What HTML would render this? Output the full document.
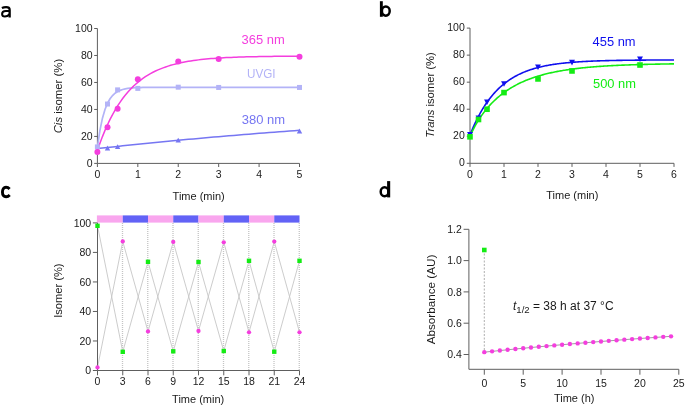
<!DOCTYPE html>
<html><head><meta charset="utf-8"><style>
html,body{margin:0;padding:0;background:#fff;}
svg{display:block;font-family:"Liberation Sans", sans-serif;will-change:transform;}
</style></head><body>
<svg width="685" height="406" viewBox="0 0 685 406">
<rect width="685" height="406" fill="#fff"/>
<path d="M97.4,28.5 V163.4 H299.5" fill="none" stroke="#5e5e5e" stroke-width="1"/>
<path d="M94.2,163.4 H97.4" stroke="#5e5e5e" stroke-width="1"/>
<text x="92.6" y="167" font-size="10.5" text-anchor="end" fill="#1a1a1a" >0</text>
<path d="M94.2,136.42 H97.4" stroke="#5e5e5e" stroke-width="1"/>
<text x="92.6" y="140.02" font-size="10.5" text-anchor="end" fill="#1a1a1a" >20</text>
<path d="M94.2,109.44 H97.4" stroke="#5e5e5e" stroke-width="1"/>
<text x="92.6" y="113.04" font-size="10.5" text-anchor="end" fill="#1a1a1a" >40</text>
<path d="M94.2,82.46 H97.4" stroke="#5e5e5e" stroke-width="1"/>
<text x="92.6" y="86.06" font-size="10.5" text-anchor="end" fill="#1a1a1a" >60</text>
<path d="M94.2,55.48 H97.4" stroke="#5e5e5e" stroke-width="1"/>
<text x="92.6" y="59.08" font-size="10.5" text-anchor="end" fill="#1a1a1a" >80</text>
<path d="M94.2,28.5 H97.4" stroke="#5e5e5e" stroke-width="1"/>
<text x="92.6" y="32.1" font-size="10.5" text-anchor="end" fill="#1a1a1a" >100</text>
<path d="M97.4,163.4 V167" stroke="#5e5e5e" stroke-width="1"/>
<text x="97.4" y="177.8" font-size="10.5" text-anchor="middle" fill="#1a1a1a" >0</text>
<path d="M137.82,163.4 V167" stroke="#5e5e5e" stroke-width="1"/>
<text x="137.82" y="177.8" font-size="10.5" text-anchor="middle" fill="#1a1a1a" >1</text>
<path d="M178.24,163.4 V167" stroke="#5e5e5e" stroke-width="1"/>
<text x="178.24" y="177.8" font-size="10.5" text-anchor="middle" fill="#1a1a1a" >2</text>
<path d="M218.66,163.4 V167" stroke="#5e5e5e" stroke-width="1"/>
<text x="218.66" y="177.8" font-size="10.5" text-anchor="middle" fill="#1a1a1a" >3</text>
<path d="M259.08,163.4 V167" stroke="#5e5e5e" stroke-width="1"/>
<text x="259.08" y="177.8" font-size="10.5" text-anchor="middle" fill="#1a1a1a" >4</text>
<path d="M299.5,163.4 V167" stroke="#5e5e5e" stroke-width="1"/>
<text x="299.5" y="177.8" font-size="10.5" text-anchor="middle" fill="#1a1a1a" >5</text>
<text x="198.7" y="199.8" font-size="11" text-anchor="middle" fill="#1a1a1a" >Time (min)</text>
<text transform="translate(62.3,96.05) rotate(-90)" font-size="11" text-anchor="middle" fill="#1a1a1a" textLength="74.6" lengthAdjust="spacingAndGlyphs"><tspan font-style="italic">Cis</tspan> isomer (%)</text>
<path d="M97.4,147.21 L99.93,130.32 L102.45,118.2 L104.98,109.49 L107.51,103.24 L110.03,98.75 L112.56,95.52 L115.08,93.21 L117.61,91.55 L120.14,90.35 L122.66,89.5 L125.19,88.88 L127.72,88.44 L130.24,88.12 L132.77,87.9 L135.29,87.73 L137.82,87.62 L140.35,87.53 L142.87,87.47 L145.4,87.43 L147.93,87.4 L150.45,87.37 L152.98,87.36 L155.5,87.35 L158.03,87.34 L160.56,87.33 L163.08,87.33 L165.61,87.32 L168.13,87.32 L170.66,87.32 L173.19,87.32 L175.71,87.32 L178.24,87.32 L180.77,87.32 L183.29,87.32 L185.82,87.32 L188.35,87.32 L190.87,87.32 L193.4,87.32 L195.92,87.32 L198.45,87.32 L200.98,87.32 L203.5,87.32 L206.03,87.32 L208.56,87.32 L211.08,87.32 L213.61,87.32 L216.13,87.32 L218.66,87.32 L221.19,87.32 L223.71,87.32 L226.24,87.32 L228.77,87.32 L231.29,87.32 L233.82,87.32 L236.34,87.32 L238.87,87.32 L241.4,87.32 L243.92,87.32 L246.45,87.32 L248.98,87.32 L251.5,87.32 L254.03,87.32 L256.55,87.32 L259.08,87.32 L261.61,87.32 L264.13,87.32 L266.66,87.32 L269.19,87.32 L271.71,87.32 L274.24,87.32 L276.76,87.32 L279.29,87.32 L281.82,87.32 L284.34,87.32 L286.87,87.32 L289.39,87.32 L291.92,87.32 L294.45,87.32 L296.97,87.32 L299.5,87.32" fill="none" stroke="#b3b3f7" stroke-width="1.7" />
<path d="M97.4,148.56 L102.45,148.01 L107.51,147.46 L112.56,146.91 L117.61,146.38 L122.66,145.84 L127.72,145.31 L132.77,144.79 L137.82,144.27 L142.87,143.76 L147.93,143.25 L152.98,142.75 L158.03,142.25 L163.08,141.75 L168.13,141.27 L173.19,140.78 L178.24,140.31 L183.29,139.83 L188.35,139.36 L193.4,138.9 L198.45,138.44 L203.5,137.99 L208.56,137.54 L213.61,137.1 L218.66,136.66 L223.71,136.23 L228.77,135.8 L233.82,135.38 L238.87,134.96 L243.92,134.55 L248.98,134.14 L254.03,133.74 L259.08,133.34 L264.13,132.95 L269.19,132.57 L274.24,132.18 L279.29,131.81 L284.34,131.43 L289.39,131.07 L294.45,130.71 L299.5,130.35" fill="none" stroke="#7676f2" stroke-width="1.5" />
<path d="M97.4,150.58 L99.93,143.31 L102.45,136.6 L104.98,130.41 L107.51,124.69 L110.03,119.41 L112.56,114.53 L115.08,110.04 L117.61,105.88 L120.14,102.05 L122.66,98.51 L125.19,95.24 L127.72,92.23 L130.24,89.44 L132.77,86.87 L135.29,84.5 L137.82,82.31 L140.35,80.29 L142.87,78.42 L145.4,76.7 L147.93,75.11 L150.45,73.64 L152.98,72.29 L155.5,71.04 L158.03,69.88 L160.56,68.82 L163.08,67.83 L165.61,66.93 L168.13,66.09 L170.66,65.31 L173.19,64.6 L175.71,63.94 L178.24,63.33 L180.77,62.77 L183.29,62.25 L185.82,61.77 L188.35,61.33 L190.87,60.92 L193.4,60.54 L195.92,60.2 L198.45,59.87 L200.98,59.58 L203.5,59.3 L206.03,59.05 L208.56,58.82 L211.08,58.6 L213.61,58.4 L216.13,58.22 L218.66,58.05 L221.19,57.9 L223.71,57.75 L226.24,57.62 L228.77,57.5 L231.29,57.38 L233.82,57.28 L236.34,57.18 L238.87,57.09 L241.4,57.01 L243.92,56.93 L246.45,56.86 L248.98,56.8 L251.5,56.74 L254.03,56.68 L256.55,56.63 L259.08,56.58 L261.61,56.54 L264.13,56.5 L266.66,56.46 L269.19,56.43 L271.71,56.4 L274.24,56.37 L276.76,56.34 L279.29,56.32 L281.82,56.29 L284.34,56.27 L286.87,56.25 L289.39,56.24 L291.92,56.22 L294.45,56.2 L296.97,56.19 L299.5,56.18" fill="none" stroke="#f43ede" stroke-width="1.5" />
<rect x="94.9" y="144.44" width="5.0" height="5.0" fill="#b3b3f7"/>
<rect x="105.01" y="101.54" width="5.0" height="5.0" fill="#b3b3f7"/>
<rect x="115.11" y="87.38" width="5.0" height="5.0" fill="#b3b3f7"/>
<rect x="135.32" y="85.9" width="5.0" height="5.0" fill="#b3b3f7"/>
<rect x="175.74" y="84.68" width="5.0" height="5.0" fill="#b3b3f7"/>
<rect x="216.16" y="84.95" width="5.0" height="5.0" fill="#b3b3f7"/>
<rect x="297" y="84.95" width="5.0" height="5.0" fill="#b3b3f7"/>
<path d="M104.81,150.42 L110.21,150.42 L107.51,145.62 Z" fill="#7676f2"/>
<path d="M114.91,149.07 L120.31,149.07 L117.61,144.27 Z" fill="#7676f2"/>
<path d="M175.54,142.6 L180.94,142.6 L178.24,137.8 Z" fill="#7676f2"/>
<path d="M296.8,133.42 L302.2,133.42 L299.5,128.62 Z" fill="#7676f2"/>
<circle cx="97.4" cy="151.93" r="3.0" fill="#f43ede"/>
<circle cx="107.51" cy="127.25" r="3.0" fill="#f43ede"/>
<circle cx="117.61" cy="108.77" r="3.0" fill="#f43ede"/>
<circle cx="137.82" cy="79.36" r="3.0" fill="#f43ede"/>
<circle cx="178.24" cy="61.55" r="3.0" fill="#f43ede"/>
<circle cx="218.66" cy="59.12" r="3.0" fill="#f43ede"/>
<circle cx="299.5" cy="56.83" r="3.0" fill="#f43ede"/>
<text x="241.5" y="44.2" font-size="12" text-anchor="start" fill="#f43ede" textLength="43.2" lengthAdjust="spacingAndGlyphs">365 nm</text>
<text x="247" y="77.9" font-size="12" text-anchor="start" fill="#b3b3f7" textLength="28.6" lengthAdjust="spacingAndGlyphs">UVGI</text>
<text x="241.7" y="123.6" font-size="12" text-anchor="start" fill="#7676f2" textLength="43.4" lengthAdjust="spacingAndGlyphs">380 nm</text>
<path d="M470,28.1 V163.3 H674" fill="none" stroke="#5e5e5e" stroke-width="1"/>
<path d="M466.8,163.3 H470" stroke="#5e5e5e" stroke-width="1"/>
<text x="464.8" y="166.4" font-size="10.5" text-anchor="end" fill="#1a1a1a" >0</text>
<path d="M466.8,136.26 H470" stroke="#5e5e5e" stroke-width="1"/>
<text x="464.8" y="139.36" font-size="10.5" text-anchor="end" fill="#1a1a1a" >20</text>
<path d="M466.8,109.22 H470" stroke="#5e5e5e" stroke-width="1"/>
<text x="464.8" y="112.32" font-size="10.5" text-anchor="end" fill="#1a1a1a" >40</text>
<path d="M466.8,82.18 H470" stroke="#5e5e5e" stroke-width="1"/>
<text x="464.8" y="85.28" font-size="10.5" text-anchor="end" fill="#1a1a1a" >60</text>
<path d="M466.8,55.14 H470" stroke="#5e5e5e" stroke-width="1"/>
<text x="464.8" y="58.24" font-size="10.5" text-anchor="end" fill="#1a1a1a" >80</text>
<path d="M466.8,28.1 H470" stroke="#5e5e5e" stroke-width="1"/>
<text x="464.8" y="31.2" font-size="10.5" text-anchor="end" fill="#1a1a1a" >100</text>
<path d="M470,163.3 V166.9" stroke="#5e5e5e" stroke-width="1"/>
<text x="470" y="177.8" font-size="10.5" text-anchor="middle" fill="#1a1a1a" >0</text>
<path d="M504,163.3 V166.9" stroke="#5e5e5e" stroke-width="1"/>
<text x="504" y="177.8" font-size="10.5" text-anchor="middle" fill="#1a1a1a" >1</text>
<path d="M538,163.3 V166.9" stroke="#5e5e5e" stroke-width="1"/>
<text x="538" y="177.8" font-size="10.5" text-anchor="middle" fill="#1a1a1a" >2</text>
<path d="M572,163.3 V166.9" stroke="#5e5e5e" stroke-width="1"/>
<text x="572" y="177.8" font-size="10.5" text-anchor="middle" fill="#1a1a1a" >3</text>
<path d="M606,163.3 V166.9" stroke="#5e5e5e" stroke-width="1"/>
<text x="606" y="177.8" font-size="10.5" text-anchor="middle" fill="#1a1a1a" >4</text>
<path d="M640,163.3 V166.9" stroke="#5e5e5e" stroke-width="1"/>
<text x="640" y="177.8" font-size="10.5" text-anchor="middle" fill="#1a1a1a" >5</text>
<path d="M674,163.3 V166.9" stroke="#5e5e5e" stroke-width="1"/>
<text x="674" y="177.8" font-size="10.5" text-anchor="middle" fill="#1a1a1a" >6</text>
<text x="572.3" y="198.5" font-size="11" text-anchor="middle" fill="#1a1a1a" >Time (min)</text>
<text transform="translate(434.0,94.95) rotate(-90)" font-size="11" text-anchor="middle" fill="#1a1a1a" textLength="85.4" lengthAdjust="spacingAndGlyphs"><tspan font-style="italic">Trans</tspan> isomer (%)</text>
<path d="M470,134.91 L471.02,132.39 L472.04,129.95 L473.06,127.59 L474.08,125.31 L475.1,123.11 L476.12,120.99 L477.14,118.93 L478.16,116.95 L479.18,115.03 L480.2,113.17 L481.22,111.38 L482.24,109.65 L483.26,107.98 L484.28,106.36 L485.3,104.8 L486.32,103.29 L487.34,101.83 L488.36,100.42 L489.38,99.05 L490.4,97.73 L491.42,96.46 L492.44,95.23 L493.46,94.04 L494.48,92.89 L495.5,91.78 L496.52,90.71 L497.54,89.67 L498.56,88.67 L499.58,87.7 L500.6,86.77 L501.62,85.86 L502.64,84.99 L503.66,84.15 L504.68,83.33 L505.7,82.54 L506.72,81.78 L507.74,81.04 L508.76,80.33 L509.78,79.64 L510.8,78.98 L511.82,78.33 L512.84,77.71 L513.86,77.11 L514.88,76.53 L515.9,75.97 L516.92,75.43 L517.94,74.91 L518.96,74.4 L519.98,73.92 L521,73.44 L522.02,72.99 L523.04,72.55 L524.06,72.12 L525.08,71.71 L526.1,71.31 L527.12,70.93 L528.14,70.55 L529.16,70.19 L530.18,69.85 L531.2,69.51 L532.22,69.19 L533.24,68.88 L534.26,68.57 L535.28,68.28 L536.3,68 L537.32,67.72 L538.34,67.46 L539.36,67.2 L540.38,66.96 L541.4,66.72 L542.42,66.49 L543.44,66.27 L544.46,66.05 L545.48,65.84 L546.5,65.64 L547.52,65.45 L548.54,65.26 L549.56,65.08 L550.58,64.91 L551.6,64.74 L552.62,64.57 L553.64,64.41 L554.66,64.26 L555.68,64.11 L556.7,63.97 L557.72,63.83 L558.74,63.7 L559.76,63.57 L560.78,63.45 L561.8,63.33 L562.82,63.21 L563.84,63.1 L564.86,62.99 L565.88,62.89 L566.9,62.78 L567.92,62.69 L568.94,62.59 L569.96,62.5 L570.98,62.41 L572,62.33 L573.02,62.24 L574.04,62.16 L575.06,62.09 L576.08,62.01 L577.1,61.94 L578.12,61.87 L579.14,61.8 L580.16,61.74 L581.18,61.68 L582.2,61.62 L583.22,61.56 L584.24,61.5 L585.26,61.45 L586.28,61.39 L587.3,61.34 L588.32,61.29 L589.34,61.24 L590.36,61.2 L591.38,61.15 L592.4,61.11 L593.42,61.07 L594.44,61.03 L595.46,60.99 L596.48,60.95 L597.5,60.92 L598.52,60.88 L599.54,60.85 L600.56,60.81 L601.58,60.78 L602.6,60.75 L603.62,60.72 L604.64,60.69 L605.66,60.67 L606.68,60.64 L607.7,60.61 L608.72,60.59 L609.74,60.56 L610.76,60.54 L611.78,60.52 L612.8,60.5 L613.82,60.48 L614.84,60.46 L615.86,60.44 L616.88,60.42 L617.9,60.4 L618.92,60.38 L619.94,60.36 L620.96,60.35 L621.98,60.33 L623,60.32 L624.02,60.3 L625.04,60.29 L626.06,60.27 L627.08,60.26 L628.1,60.25 L629.12,60.23 L630.14,60.22 L631.16,60.21 L632.18,60.2 L633.2,60.19 L634.22,60.18 L635.24,60.17 L636.26,60.16 L637.28,60.15 L638.3,60.14 L639.32,60.13 L640.34,60.12 L641.36,60.11 L642.38,60.1 L643.4,60.1 L644.42,60.09 L645.44,60.08 L646.46,60.07 L647.48,60.07 L648.5,60.06 L649.52,60.05 L650.54,60.05 L651.56,60.04 L652.58,60.04 L653.6,60.03 L654.62,60.03 L655.64,60.02 L656.66,60.02 L657.68,60.01 L658.7,60.01 L659.72,60 L660.74,60 L661.76,59.99 L662.78,59.99 L663.8,59.99 L664.82,59.98 L665.84,59.98 L666.86,59.97 L667.88,59.97 L668.9,59.97 L669.92,59.96 L670.94,59.96 L671.96,59.96 L672.98,59.96 L674,59.95" fill="none" stroke="#1010ee" stroke-width="1.6" />
<path d="M470,136.8 L471.02,134.16 L472.04,131.89 L473.06,129.78 L474.08,127.78 L475.1,125.89 L476.12,124.08 L477.14,122.34 L478.16,120.68 L479.18,119.07 L480.2,117.53 L481.22,116.04 L482.24,114.6 L483.26,113.2 L484.28,111.86 L485.3,110.56 L486.32,109.3 L487.34,108.08 L488.36,106.9 L489.38,105.75 L490.4,104.64 L491.42,103.56 L492.44,102.51 L493.46,101.5 L494.48,100.51 L495.5,99.55 L496.52,98.62 L497.54,97.72 L498.56,96.84 L499.58,95.99 L500.6,95.16 L501.62,94.36 L502.64,93.57 L503.66,92.81 L504.68,92.07 L505.7,91.35 L506.72,90.65 L507.74,89.97 L508.76,89.3 L509.78,88.66 L510.8,88.03 L511.82,87.42 L512.84,86.82 L513.86,86.24 L514.88,85.68 L515.9,85.13 L516.92,84.59 L517.94,84.07 L518.96,83.56 L519.98,83.07 L521,82.59 L522.02,82.12 L523.04,81.66 L524.06,81.22 L525.08,80.78 L526.1,80.36 L527.12,79.95 L528.14,79.55 L529.16,79.16 L530.18,78.77 L531.2,78.4 L532.22,78.04 L533.24,77.69 L534.26,77.34 L535.28,77.01 L536.3,76.68 L537.32,76.36 L538.34,76.05 L539.36,75.75 L540.38,75.45 L541.4,75.16 L542.42,74.88 L543.44,74.61 L544.46,74.34 L545.48,74.08 L546.5,73.82 L547.52,73.57 L548.54,73.33 L549.56,73.09 L550.58,72.86 L551.6,72.64 L552.62,72.42 L553.64,72.21 L554.66,72 L555.68,71.79 L556.7,71.59 L557.72,71.4 L558.74,71.21 L559.76,71.02 L560.78,70.84 L561.8,70.67 L562.82,70.5 L563.84,70.33 L564.86,70.17 L565.88,70.01 L566.9,69.85 L567.92,69.7 L568.94,69.55 L569.96,69.4 L570.98,69.26 L572,69.12 L573.02,68.99 L574.04,68.86 L575.06,68.73 L576.08,68.6 L577.1,68.48 L578.12,68.36 L579.14,68.24 L580.16,68.13 L581.18,68.02 L582.2,67.91 L583.22,67.8 L584.24,67.7 L585.26,67.6 L586.28,67.5 L587.3,67.4 L588.32,67.31 L589.34,67.22 L590.36,67.13 L591.38,67.04 L592.4,66.95 L593.42,66.87 L594.44,66.79 L595.46,66.71 L596.48,66.63 L597.5,66.55 L598.52,66.48 L599.54,66.41 L600.56,66.33 L601.58,66.26 L602.6,66.2 L603.62,66.13 L604.64,66.07 L605.66,66 L606.68,65.94 L607.7,65.88 L608.72,65.82 L609.74,65.76 L610.76,65.71 L611.78,65.65 L612.8,65.6 L613.82,65.55 L614.84,65.49 L615.86,65.44 L616.88,65.4 L617.9,65.35 L618.92,65.3 L619.94,65.26 L620.96,65.21 L621.98,65.17 L623,65.12 L624.02,65.08 L625.04,65.04 L626.06,65 L627.08,64.96 L628.1,64.93 L629.12,64.89 L630.14,64.85 L631.16,64.82 L632.18,64.78 L633.2,64.75 L634.22,64.71 L635.24,64.68 L636.26,64.65 L637.28,64.62 L638.3,64.59 L639.32,64.56 L640.34,64.53 L641.36,64.5 L642.38,64.48 L643.4,64.45 L644.42,64.42 L645.44,64.4 L646.46,64.37 L647.48,64.35 L648.5,64.32 L649.52,64.3 L650.54,64.28 L651.56,64.25 L652.58,64.23 L653.6,64.21 L654.62,64.19 L655.64,64.17 L656.66,64.15 L657.68,64.13 L658.7,64.11 L659.72,64.09 L660.74,64.07 L661.76,64.05 L662.78,64.04 L663.8,64.02 L664.82,64 L665.84,63.99 L666.86,63.97 L667.88,63.95 L668.9,63.94 L669.92,63.92 L670.94,63.91 L671.96,63.9 L672.98,63.88 L674,63.87" fill="none" stroke="#14ec14" stroke-width="1.6" />
<path d="M467.05,132.11 L472.95,132.11 L470,137.71 Z" fill="#1010ee"/>
<path d="M475.55,115.48 L481.45,115.48 L478.5,121.08 Z" fill="#1010ee"/>
<path d="M484.05,99.39 L489.95,99.39 L487,104.99 Z" fill="#1010ee"/>
<path d="M501.05,81.27 L506.95,81.27 L504,86.87 Z" fill="#1010ee"/>
<path d="M535.05,64.51 L540.95,64.51 L538,70.11 Z" fill="#1010ee"/>
<path d="M569.05,59.78 L574.95,59.78 L572,65.38 Z" fill="#1010ee"/>
<path d="M637.05,56.4 L642.95,56.4 L640,62 Z" fill="#1010ee"/>
<rect x="467.2" y="134" width="5.6" height="5.6" fill="#14ec14"/>
<rect x="475.7" y="116.7" width="5.6" height="5.6" fill="#14ec14"/>
<rect x="484.2" y="106.42" width="5.6" height="5.6" fill="#14ec14"/>
<rect x="501.2" y="89.79" width="5.6" height="5.6" fill="#14ec14"/>
<rect x="535.2" y="76.14" width="5.6" height="5.6" fill="#14ec14"/>
<rect x="569.2" y="68.16" width="5.6" height="5.6" fill="#14ec14"/>
<rect x="637.2" y="62.21" width="5.6" height="5.6" fill="#14ec14"/>
<text x="592.6" y="45.6" font-size="12" text-anchor="start" fill="#1010ee" textLength="43.0" lengthAdjust="spacingAndGlyphs">455 nm</text>
<text x="593" y="87.6" font-size="12" text-anchor="start" fill="#14ec14" textLength="43.0" lengthAdjust="spacingAndGlyphs">500 nm</text>
<rect x="96.9" y="215.4" width="25.85" height="7.2" fill="#f9a6ee"/>
<rect x="122.75" y="215.4" width="25.25" height="7.2" fill="#6262f6"/>
<rect x="148" y="215.4" width="25.25" height="7.2" fill="#f9a6ee"/>
<rect x="173.25" y="215.4" width="25.25" height="7.2" fill="#6262f6"/>
<rect x="198.5" y="215.4" width="25.25" height="7.2" fill="#f9a6ee"/>
<rect x="223.75" y="215.4" width="25.25" height="7.2" fill="#6262f6"/>
<rect x="249.01" y="215.4" width="25.25" height="7.2" fill="#f9a6ee"/>
<rect x="274.26" y="215.4" width="25.25" height="7.2" fill="#6262f6"/>
<path d="M122.5,223 V370" stroke="#c4c4c4" stroke-width="1.3" stroke-dasharray="1,1"/>
<path d="M147.75,223 V370" stroke="#c4c4c4" stroke-width="1.3" stroke-dasharray="1,1"/>
<path d="M173,223 V370" stroke="#c4c4c4" stroke-width="1.3" stroke-dasharray="1,1"/>
<path d="M198.25,223 V370" stroke="#c4c4c4" stroke-width="1.3" stroke-dasharray="1,1"/>
<path d="M223.5,223 V370" stroke="#c4c4c4" stroke-width="1.3" stroke-dasharray="1,1"/>
<path d="M248.76,223 V370" stroke="#c4c4c4" stroke-width="1.3" stroke-dasharray="1,1"/>
<path d="M274.01,223 V370" stroke="#c4c4c4" stroke-width="1.3" stroke-dasharray="1,1"/>
<path d="M299.26,223 V370" stroke="#c4c4c4" stroke-width="1.3" stroke-dasharray="1,1"/>
<path d="M97.5,367.4 L122.75,241.45 L148,331.45 L173.25,241.9 L198.5,331 L223.75,242.3 L249.01,332.3 L274.26,241.6 L299.51,332.3" fill="none" stroke="#c6c6c6" stroke-width="0.9" />
<path d="M97.5,225.8 L122.75,351.8 L148,261.8 L173.25,351.3 L198.5,262 L223.75,351 L249.01,260.8 L274.26,351.7 L299.51,260.8" fill="none" stroke="#c6c6c6" stroke-width="0.9" />
<path d="M97.5,222.9 V370.5 H299.51" fill="none" stroke="#5e5e5e" stroke-width="1"/>
<path d="M92.9,370.5 H97.5" stroke="#5e5e5e" stroke-width="1"/>
<text x="91.2" y="374.1" font-size="10.5" text-anchor="end" fill="#1a1a1a" >0</text>
<path d="M92.9,340.98 H97.5" stroke="#5e5e5e" stroke-width="1"/>
<text x="91.2" y="344.58" font-size="10.5" text-anchor="end" fill="#1a1a1a" >20</text>
<path d="M92.9,311.46 H97.5" stroke="#5e5e5e" stroke-width="1"/>
<text x="91.2" y="315.06" font-size="10.5" text-anchor="end" fill="#1a1a1a" >40</text>
<path d="M92.9,281.94 H97.5" stroke="#5e5e5e" stroke-width="1"/>
<text x="91.2" y="285.54" font-size="10.5" text-anchor="end" fill="#1a1a1a" >60</text>
<path d="M92.9,252.42 H97.5" stroke="#5e5e5e" stroke-width="1"/>
<text x="91.2" y="256.02" font-size="10.5" text-anchor="end" fill="#1a1a1a" >80</text>
<path d="M92.9,222.9 H97.5" stroke="#5e5e5e" stroke-width="1"/>
<text x="91.2" y="226.5" font-size="10.5" text-anchor="end" fill="#1a1a1a" >100</text>
<path d="M97.5,370.5 V375.3" stroke="#5e5e5e" stroke-width="1"/>
<text x="97.5" y="385.2" font-size="10.5" text-anchor="middle" fill="#1a1a1a" >0</text>
<path d="M122.75,370.5 V375.3" stroke="#5e5e5e" stroke-width="1"/>
<text x="122.75" y="385.2" font-size="10.5" text-anchor="middle" fill="#1a1a1a" >3</text>
<path d="M148,370.5 V375.3" stroke="#5e5e5e" stroke-width="1"/>
<text x="148" y="385.2" font-size="10.5" text-anchor="middle" fill="#1a1a1a" >6</text>
<path d="M173.25,370.5 V375.3" stroke="#5e5e5e" stroke-width="1"/>
<text x="173.25" y="385.2" font-size="10.5" text-anchor="middle" fill="#1a1a1a" >9</text>
<path d="M198.5,370.5 V375.3" stroke="#5e5e5e" stroke-width="1"/>
<text x="198.5" y="385.2" font-size="10.5" text-anchor="middle" fill="#1a1a1a" >12</text>
<path d="M223.75,370.5 V375.3" stroke="#5e5e5e" stroke-width="1"/>
<text x="223.75" y="385.2" font-size="10.5" text-anchor="middle" fill="#1a1a1a" >15</text>
<path d="M249.01,370.5 V375.3" stroke="#5e5e5e" stroke-width="1"/>
<text x="249.01" y="385.2" font-size="10.5" text-anchor="middle" fill="#1a1a1a" >18</text>
<path d="M274.26,370.5 V375.3" stroke="#5e5e5e" stroke-width="1"/>
<text x="274.26" y="385.2" font-size="10.5" text-anchor="middle" fill="#1a1a1a" >21</text>
<path d="M299.51,370.5 V375.3" stroke="#5e5e5e" stroke-width="1"/>
<text x="299.51" y="385.2" font-size="10.5" text-anchor="middle" fill="#1a1a1a" >24</text>
<rect x="95.3" y="223.6" width="4.4" height="4.4" fill="#14ec14"/>
<rect x="120.55" y="349.6" width="4.4" height="4.4" fill="#14ec14"/>
<rect x="145.8" y="259.6" width="4.4" height="4.4" fill="#14ec14"/>
<rect x="171.05" y="349.1" width="4.4" height="4.4" fill="#14ec14"/>
<rect x="196.3" y="259.8" width="4.4" height="4.4" fill="#14ec14"/>
<rect x="221.56" y="348.8" width="4.4" height="4.4" fill="#14ec14"/>
<rect x="246.81" y="258.6" width="4.4" height="4.4" fill="#14ec14"/>
<rect x="272.06" y="349.5" width="4.4" height="4.4" fill="#14ec14"/>
<rect x="297.31" y="258.6" width="4.4" height="4.4" fill="#14ec14"/>
<circle cx="97.5" cy="367.4" r="2.15" fill="#f43ede"/>
<circle cx="122.75" cy="241.45" r="2.15" fill="#f43ede"/>
<circle cx="148" cy="331.45" r="2.15" fill="#f43ede"/>
<circle cx="173.25" cy="241.9" r="2.15" fill="#f43ede"/>
<circle cx="198.5" cy="331" r="2.15" fill="#f43ede"/>
<circle cx="223.75" cy="242.3" r="2.15" fill="#f43ede"/>
<circle cx="249.01" cy="332.3" r="2.15" fill="#f43ede"/>
<circle cx="274.26" cy="241.6" r="2.15" fill="#f43ede"/>
<circle cx="299.51" cy="332.3" r="2.15" fill="#f43ede"/>
<text x="198.2" y="402.6" font-size="11" text-anchor="middle" fill="#1a1a1a" >Time (min)</text>
<text transform="translate(62.2,290.7) rotate(-90)" font-size="11" text-anchor="middle" fill="#1a1a1a" textLength="54.3" lengthAdjust="spacingAndGlyphs">Isomer (%)</text>
<path d="M468.9,229.3 V369.3 H678.8" fill="none" stroke="#5e5e5e" stroke-width="1"/>
<path d="M463.6,354.5 H468.9" stroke="#5e5e5e" stroke-width="1"/>
<text x="461.8" y="358.1" font-size="10.5" text-anchor="end" fill="#1a1a1a" >0.4</text>
<path d="M463.6,323.2 H468.9" stroke="#5e5e5e" stroke-width="1"/>
<text x="461.8" y="326.8" font-size="10.5" text-anchor="end" fill="#1a1a1a" >0.6</text>
<path d="M463.6,291.9 H468.9" stroke="#5e5e5e" stroke-width="1"/>
<text x="461.8" y="295.5" font-size="10.5" text-anchor="end" fill="#1a1a1a" >0.8</text>
<path d="M463.6,260.6 H468.9" stroke="#5e5e5e" stroke-width="1"/>
<text x="461.8" y="264.2" font-size="10.5" text-anchor="end" fill="#1a1a1a" >1.0</text>
<path d="M463.6,229.3 H468.9" stroke="#5e5e5e" stroke-width="1"/>
<text x="461.8" y="232.9" font-size="10.5" text-anchor="end" fill="#1a1a1a" >1.2</text>
<path d="M484.3,369.3 V374.7" stroke="#5e5e5e" stroke-width="1"/>
<text x="484.3" y="386.6" font-size="10.5" text-anchor="middle" fill="#1a1a1a" >0</text>
<path d="M523.2,369.3 V374.7" stroke="#5e5e5e" stroke-width="1"/>
<text x="523.2" y="386.6" font-size="10.5" text-anchor="middle" fill="#1a1a1a" >5</text>
<path d="M562.1,369.3 V374.7" stroke="#5e5e5e" stroke-width="1"/>
<text x="562.1" y="386.6" font-size="10.5" text-anchor="middle" fill="#1a1a1a" >10</text>
<path d="M601,369.3 V374.7" stroke="#5e5e5e" stroke-width="1"/>
<text x="601" y="386.6" font-size="10.5" text-anchor="middle" fill="#1a1a1a" >15</text>
<path d="M639.9,369.3 V374.7" stroke="#5e5e5e" stroke-width="1"/>
<text x="639.9" y="386.6" font-size="10.5" text-anchor="middle" fill="#1a1a1a" >20</text>
<path d="M678.8,369.3 V374.7" stroke="#5e5e5e" stroke-width="1"/>
<text x="678.8" y="386.6" font-size="10.5" text-anchor="middle" fill="#1a1a1a" >25</text>
<text x="574.2" y="402.2" font-size="11" text-anchor="middle" fill="#1a1a1a" >Time (h)</text>
<text transform="translate(434.6,299.5) rotate(-90)" font-size="11" text-anchor="middle" fill="#1a1a1a" textLength="89.6" lengthAdjust="spacingAndGlyphs">Absorbance (AU)</text>
<path d="M484.3,250 V352" stroke="#9a9a9a" stroke-width="0.8" stroke-dasharray="2,1.5"/>
<path d="M484.3,352.15 L492.08,351.35 L499.86,350.55 L507.64,349.78 L515.42,349.01 L523.2,348.26 L530.98,347.53 L538.76,346.81 L546.54,346.1 L554.32,345.4 L562.1,344.72 L569.88,344.04 L577.66,343.38 L585.44,342.74 L593.22,342.1 L601,341.48 L608.78,340.86 L616.56,340.26 L624.34,339.67 L632.12,339.09 L639.9,338.52 L647.68,337.96 L655.46,337.41 L663.24,336.87 L671.02,336.34" fill="none" stroke="#a0a0a0" stroke-width="1" />
<rect x="482" y="247.7" width="4.6" height="4.6" fill="#14ec14"/>
<circle cx="484.3" cy="352.15" r="2.2" fill="#f43ede"/>
<circle cx="492.08" cy="351.35" r="2.2" fill="#f43ede"/>
<circle cx="499.86" cy="350.55" r="2.2" fill="#f43ede"/>
<circle cx="507.64" cy="349.78" r="2.2" fill="#f43ede"/>
<circle cx="515.42" cy="349.01" r="2.2" fill="#f43ede"/>
<circle cx="523.2" cy="348.26" r="2.2" fill="#f43ede"/>
<circle cx="530.98" cy="347.53" r="2.2" fill="#f43ede"/>
<circle cx="538.76" cy="346.81" r="2.2" fill="#f43ede"/>
<circle cx="546.54" cy="346.1" r="2.2" fill="#f43ede"/>
<circle cx="554.32" cy="345.4" r="2.2" fill="#f43ede"/>
<circle cx="562.1" cy="344.72" r="2.2" fill="#f43ede"/>
<circle cx="569.88" cy="344.04" r="2.2" fill="#f43ede"/>
<circle cx="577.66" cy="343.38" r="2.2" fill="#f43ede"/>
<circle cx="585.44" cy="342.74" r="2.2" fill="#f43ede"/>
<circle cx="593.22" cy="342.1" r="2.2" fill="#f43ede"/>
<circle cx="601" cy="341.48" r="2.2" fill="#f43ede"/>
<circle cx="608.78" cy="340.86" r="2.2" fill="#f43ede"/>
<circle cx="616.56" cy="340.26" r="2.2" fill="#f43ede"/>
<circle cx="624.34" cy="339.67" r="2.2" fill="#f43ede"/>
<circle cx="632.12" cy="339.09" r="2.2" fill="#f43ede"/>
<circle cx="639.9" cy="338.52" r="2.2" fill="#f43ede"/>
<circle cx="647.68" cy="337.96" r="2.2" fill="#f43ede"/>
<circle cx="655.46" cy="337.41" r="2.2" fill="#f43ede"/>
<circle cx="663.24" cy="336.87" r="2.2" fill="#f43ede"/>
<circle cx="671.02" cy="336.34" r="2.2" fill="#f43ede"/>
<text x="513" y="309.5" font-size="12" fill="#1a1a1a"><tspan font-style="italic">t</tspan><tspan font-size="9.6" dy="3.8">1/2</tspan><tspan dy="-3.8"> = 38 h at 37 °C</tspan></text>
<g fill="none" stroke="#000">
<path d="M9.65,17.4 V9.9 C9.65,7.8 8.5,7.1 6.2,7.1 C4.5,7.1 3.1,7.4 1.9,8.0" stroke-width="2.3"/>
<path d="M9.5,11.1 L5.8,11.1 C3.4,11.1 2.1,12.2 2.1,14.0 C2.1,15.7 3.3,16.5 4.9,16.5 C6.8,16.5 8.3,15.6 9.5,14.3" stroke-width="2.0"/>
<path d="M381.35,1.2 V16.8" stroke-width="2.9"/>
<ellipse cx="385.8" cy="11.1" rx="3.9" ry="4.55" stroke-width="2.5"/>
<path d="M9.6,189.0 C8.8,188.1 7.6,187.3 6.0,187.3 C3.7,187.3 2.45,189.2 2.45,192.0 C2.45,194.9 3.8,196.7 6.1,196.7 C7.6,196.7 8.8,196.0 9.7,195.0" stroke-width="2.9"/>
<path d="M388.65,181.1 V197.4" stroke-width="3.1"/>
<ellipse cx="384.6" cy="191.7" rx="3.9" ry="4.5" stroke-width="2.5"/>
</g>
</svg></body></html>
